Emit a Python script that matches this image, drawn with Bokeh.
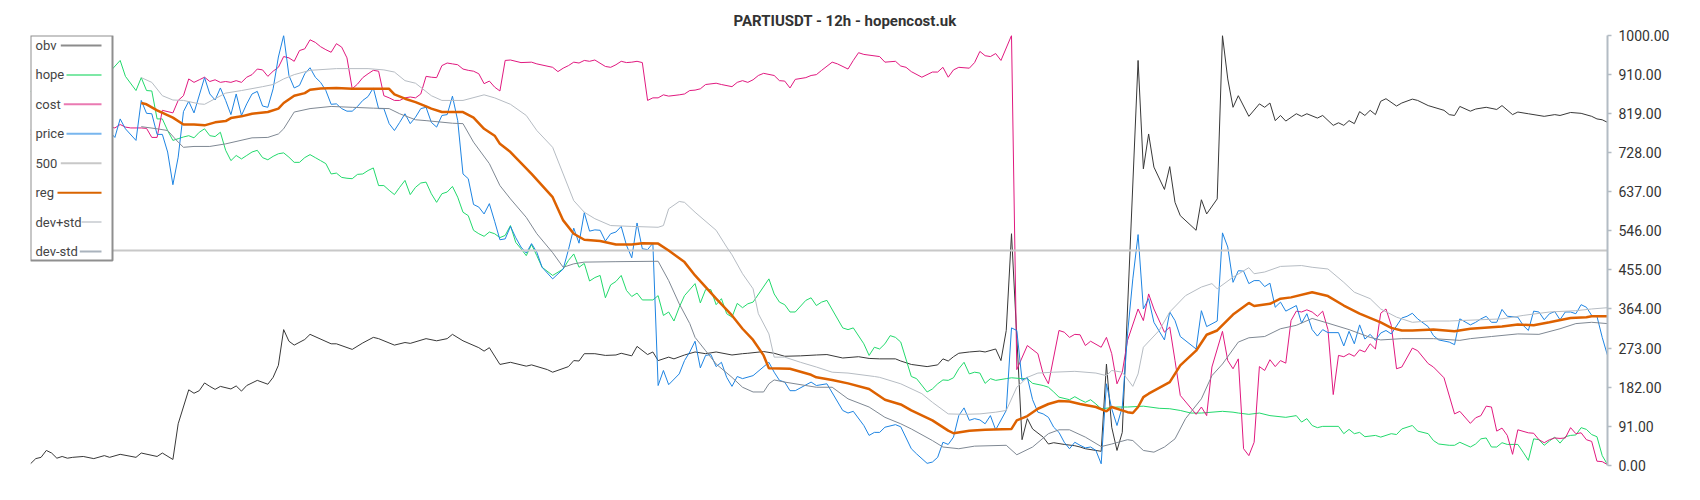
from bokeh.plotting import figure
from bokeh.models import Range1d, FixedTicker, PrintfTickFormatter, BoxAnnotation, Label
from bokeh.embed import file_html
from bokeh.resources import INLINE

# ---------------- data (candle index, normalised value 0..1000) ----------------
obv = [(0,4),(1,16),(2,19),(3,35),(4,29),(5,17),(6,21),(7,17),(8,19),(10,21),(12,16),(14,23),(15,19),(17,26),
       (20,19),(21,29),(24,21),(25,29),(27,14),(28,97),(30,176),(31,168),(32,174),(33,192),(34,184),(35,177),
       (36,184),(38,178),(39,185),(40,173),(41,186),(43,198),(45,189),(46,205),(47,233),(48,316),(49,289),(50,280),
       (52,293),(53,305),(57,283),(58,283),(61,270),(63,285),(65,298),(66,295),(69,280),(71,286),(72,284),(75,295),
       (77,290),(79,295),(80,305),(82,290),(85,274),(86,266),(87,274),(89,235),(91,240),(94,231),(95,234),(98,223),
       (99,217),(102,230),(103,244),(104,243),(105,260),(107,260),(109,256),(111,257),(112,261),(114,255),(115,277),
       (117,258),(118,264),(119,244),(121,252),(122,248),(124,257),(126,264),(128,260),(130,264),(133,257),(135,260),
       (136,261),(139,265),(141,261),(143,254),(146,255),(149,257),(151,258),(154,250),(157,253),(159,249),(161,248),
       (164,248),(165,243),(167,235),(170,230),(172,234),(173,248),(174,243),(175,253),(176,261),(178,264),(180,266),
       (181,264),(183,271),(184,244),(185,314),(186,539),(188,60),(189,109),(190,85),(192,66),(193,50),(194,53),
       (196,49),(198,46),(199,43),(200,39),(203,33),(204,236),(205,89),(206,35),(207,77),(210,942),(211,690),
       (212,771),(213,694),(215,642),(216,695),(217,612),(218,581),(221,547),(222,618),(223,585),(225,620),(226,1000),
       (227,899),(228,833),(229,860),(231,812),(233,841),(234,833),(235,843),(236,802),(237,814),(238,801),(240,818),
       (241,812),(242,818),(244,808),(245,814),(247,791),(248,797),(249,791),(250,802),(251,795),(252,823),(253,814),
       (254,826),(255,816),(256,847),(257,853),(259,836),(260,843),(262,852),(263,849),(265,837),(268,826),(269,816),
       (270,814),(271,835),(273,824),(274,829),(276,833),(278,828),(279,837),(281,816),(282,822),(284,818),(287,812),
       (289,816),(290,814),(292,821),(294,819),(296,812),(297,806),(298,804),(299,798)]

hope = [(0,870),(3,890),(6,905),(9,895),(12,925),(15,915),(17,942),(18,905),(20,872),(21,902),(22,872),(23,871),
        (24,806),(25,806),(26,779),(27,756),(28,760),(29,764),(30,767),(31,762),(32,775),(33,783),(34,767),(35,765),
        (36,775),(37,733),(38,709),(39,721),(40,713),(41,721),(42,729),(43,733),(44,716),(45,711),(46,719),(47,725),
        (48,727),(49,717),(50,705),(51,705),(52,716),(53,723),(54,716),(55,709),(56,702),(57,678),(58,680),(59,670),
        (60,668),(61,667),(62,677),(63,678),(64,686),(65,692),(66,651),(67,651),(68,640),(69,630),(70,647),(71,663),
        (72,630),(73,647),(74,657),(75,659),(76,632),(77,612),(78,632),(79,636),(80,649),(81,624),(82,589),(83,581),
        (84,547),(85,539),(86,533),(87,543),(88,539),(89,530),(90,535),(91,558),(92,519),(93,504),(94,488),(95,514),
        (96,488),(97,461),(99,442),(101,457),(102,477),(103,492),(104,461),(105,470),(106,429),(107,437),(108,442),
        (109,390),(110,420),(111,428),(112,442),(113,407),(114,393),(115,401),(116,385),(118,385),(119,395),(120,349),
        (121,357),(122,336),(123,368),(124,395),(126,423),(127,378),(128,409),(129,409),(130,374),(131,388),(132,353),
        (133,345),(134,377),(135,367),(136,376),(137,380),(140,434),(141,399),(142,380),(143,374),(144,357),(145,357),
        (147,384),(148,390),(149,372),(150,380),(151,384),(154,320),(155,316),(156,320),(158,283),(159,256),(160,275),
        (161,271),(162,283),(163,302),(164,298),(165,287),(167,207),(168,202),(170,171),(171,178),(172,190),(173,199),
        (174,198),(175,204),(176,225),(177,240),(178,213),(179,217),(180,215),(181,191),(182,202),(183,198),(185,202),
        (186,204),(188,202),(189,202),(190,191),(192,186),(193,182),(194,171),(195,159),(197,153),(198,160),(199,153),
        (200,147),(201,153),(202,143),(203,132),(206,136),(208,136),(211,138),(214,133),(216,132),(218,128),(220,122),
        (222,122),(226,126),(228,124),(229,122),(231,119),(233,122),(235,116),(238,112),(240,116),(241,101),(242,109),
        (243,93),(244,88),(245,91),(248,91),(249,74),(250,84),(251,74),(252,77),(253,67),(255,70),(256,66),(258,74),
        (259,72),(260,85),(262,93),(263,80),(265,74),(266,58),(267,50),(269,47),(270,47),(271,54),(273,43),(274,50),
        (275,62),(276,64),(277,43),(278,43),(279,53),(280,49),(282,49),(283,31),(284,12),(285,62),(286,60),(287,47),
        (288,57),(289,66),(290,52),(291,67),(292,70),(293,71),(294,88),(295,84),(296,72),(297,67),(298,23),(299,2)]

cost = [(0,770),(4,790),(8,780),(12,795),(16,785),(17,793),(18,787),(19,785),(21,785),(22,784),(23,763),(24,763),
        (25,826),(27,820),(28,849),(29,860),(30,899),(31,891),(32,897),(33,903),(34,893),(35,897),(36,891),(37,893),
        (38,891),(39,895),(40,891),(41,903),(42,909),(43,922),(44,920),(45,905),(46,917),(47,926),(48,951),(49,948),
        (50,940),(51,965),(52,969),(53,990),(54,984),(55,974),(56,967),(57,961),(58,981),(59,973),(60,948),(61,876),
        (62,887),(63,902),(64,911),(65,919),(66,917),(67,860),(68,855),(69,849),(70,849),(71,855),(72,857),(73,855),
        (74,864),(75,905),(76,903),(77,902),(78,930),(79,936),(80,934),(81,932),(82,922),(83,919),(84,917),(85,911),
        (86,888),(87,894),(88,880),(89,871),(90,942),(91,943),(93,937),(95,938),(96,934),(99,926),(100,916),(101,924),
        (102,930),(103,938),(104,936),(105,942),(106,940),(107,943),(109,928),(110,926),(111,932),(112,940),(113,937),
        (114,938),(115,940),(116,937),(117,849),(118,855),(119,855),(120,862),(121,859),(123,862),(124,864),(125,872),
        (126,873),(127,876),(128,886),(130,889),(131,886),(133,881),(134,891),(135,895),(136,891),(137,897),(138,907),
        (139,912),(141,907),(142,895),(143,894),(144,878),(145,898),(147,902),(148,907),(149,909),(150,919),(152,938),
        (153,934),(155,922),(156,942),(157,960),(158,956),(161,951),(162,938),(164,940),(165,929),(166,926),(167,916),
        (169,903),(171,915),(172,915),(173,926),(174,903),(175,920),(176,926),(178,924),(179,937),(180,963),(181,953),
        (182,951),(183,958),(184,942),(186,1000),(187,223),(189,279),(191,260),(192,213),(193,190),(195,314),(196,310),
        (197,298),(198,305),(199,304),(200,279),(201,289),(203,275),(204,298),(205,260),(206,190),(207,217),(208,291),
        (210,364),(211,337),(212,399),(213,364),(215,310),(216,322),(217,244),(218,163),(221,119),(222,136),(223,116),
        (224,229),(226,312),(227,244),(228,225),(229,248),(230,39),(231,23),(232,54),(233,230),(234,221),(235,246),
        (236,230),(237,244),(238,238),(239,337),(240,359),(241,357),(242,362),(243,357),(244,347),(245,359),(246,316),
        (247,165),(248,256),(249,253),(250,260),(251,254),(252,269),(253,264),(254,283),(255,271),(256,354),(257,364),
        (258,326),(259,225),(260,229),(262,273),(263,267),(265,237),(266,229),(268,204),(270,120),(271,126),(273,98),
        (274,111),(275,116),(276,138),(277,136),(278,80),(279,87),(280,70),(281,26),(282,83),(284,76),(285,75),(286,60),
        (287,53),(288,60),(289,64),(290,63),(291,64),(292,88),(293,74),(294,76),(295,60),(296,56),(297,10),(298,9),
        (299,2)]

price = [(0,780),(3,792),(6,770),(9,800),(12,775),(14,790),(16,763),(17,806),(18,783),(20,756),(21,849),(22,819),
         (23,818),(24,770),(25,770),(26,729),(27,653),(28,717),(29,823),(30,847),(31,820),(33,902),(34,864),(35,850),
         (36,878),(37,849),(38,816),(39,864),(40,814),(41,841),(42,864),(43,870),(44,836),(45,833),(46,876),(47,950),
         (48,1000),(49,907),(50,878),(51,884),(52,911),(53,925),(54,903),(55,891),(56,872),(57,840),(58,841),(59,830),
         (60,824),(61,824),(62,835),(63,849),(64,858),(65,878),(66,830),(67,830),(68,795),(69,779),(70,798),(71,818),
         (72,795),(73,810),(74,830),(75,833),(76,798),(77,787),(78,814),(79,816),(80,859),(81,802),(82,678),(83,667),
         (84,607),(85,601),(86,585),(87,609),(88,568),(89,525),(90,527),(91,556),(92,530),(93,508),(94,494),(95,516),
         (96,496),(97,461),(99,434),(101,457),(102,502),(103,552),(104,517),(105,588),(106,545),(107,548),(108,547),
         (109,522),(110,539),(111,543),(112,556),(113,512),(114,483),(115,564),(116,504),(117,502),(118,517),(119,186),
         (120,221),(121,188),(123,213),(124,244),(125,264),(126,289),(127,227),(128,256),(129,258),(130,230),(131,240),
         (132,205),(133,184),(134,207),(135,202),(137,209),(140,240),(141,217),(142,198),(143,194),(144,174),(145,174),
         (148,194),(149,186),(151,190),(154,128),(155,122),(156,126),(158,93),(159,70),(160,77),(161,77),(162,89),
         (164,95),(165,90),(167,39),(168,27),(170,5),(171,8),(172,19),(173,54),(174,49),(175,66),(176,116),(177,134),
         (178,105),(179,109),(180,106),(181,97),(182,116),(183,83),(185,128),(186,320),(187,314),(188,198),(189,205),
         (190,153),(191,124),(192,120),(193,112),(194,89),(195,77),(196,54),(197,39),(198,54),(199,47),(200,41),
         (201,43),(202,35),(203,4),(204,190),(205,132),(206,93),(207,136),(208,306),(209,434),(210,537),(211,364),
         (212,388),(213,333),(215,292),(216,357),(217,337),(218,300),(221,271),(222,360),(223,323),(225,336),(226,541),
         (227,508),(228,426),(229,453),(230,452),(231,423),(232,430),(233,430),(234,416),(235,424),(236,368),(237,380),
         (238,359),(240,372),(241,331),(242,353),(243,316),(244,301),(245,316),(246,309),(248,309),(249,278),(250,312),
         (251,283),(252,327),(253,294),(254,305),(255,291),(256,308),(257,314),(258,306),(260,343),(261,347),(262,354),
         (263,341),(265,323),(266,302),(267,292),(269,287),(270,281),(271,341),(273,327),(274,333),(275,341),(276,347),
         (277,333),(278,333),(279,363),(280,347),(282,345),(283,326),(284,314),(285,359),(286,357),(287,339),(288,353),
         (289,358),(290,339),(291,357),(292,357),(293,353),(294,374),(295,368),(296,349),(297,347),(298,298),(299,256)]

level_500 = [(0,500),(299,500)]

reg = [(21,843),(22,840),(24,826),(27,809),(29,793),(31,793),(33,791),(35,798),(37,801),(38,808),(40,812),(42,818),
       (45,822),(47,830),(48,843),(50,860),(52,866),(53,874),(55,877),(58,878),(61,876),(64,876),(68,876),(69,863),
       (71,853),(73,845),(75,835),(76,830),(78,822),(82,822),(84,809),(86,783),(88,767),(89,748),(91,729),(95,678),
       (99,624),(101,570),(103,539),(105,525),(108,522),(111,514),(114,514),(116,517),(119,516),(121,500),(124,473),
       (126,442),(130,388),(133,349),(135,318),(137,292),(139,256),(140,226),(144,225),(148,211),(149,205),(152,199),
       (155,191),(159,178),(162,153),(165,142),(167,128),(171,105),(174,81),(175,75),(178,81),(181,83),(186,85),
       (187,105),(189,115),(191,132),(193,143),(195,150),(197,149),(199,143),(202,136),(204,126),(205,136),(208,124),
       (209,122),(210,136),(211,159),(212,167),(216,194),(218,233),(221,267),(223,304),(225,314),(228,351),(231,378),
       (232,371),(235,376),(237,388),(239,391),(243,403),(246,394),(249,372),(252,353),(256,333),(258,320),(260,314),
       (262,314),(266,316),(270,312),(273,318),(279,323),(282,328),(285,326),(288,333),(292,343),(295,345),(296,347),
       (299,347)]

dev_plus = [(21,902),(23,891),(25,860),(27,850),(29,849),(32,841),(33,840),(35,853),(37,866),(40,872),(44,881),
            (46,886),(48,899),(50,909),(53,919),(58,923),(64,923),(67,920),(69,915),(71,895),(73,889),(76,860),(78,849),
            (82,849),(86,862),(88,855),(91,840),(94,814),(96,779),(99,740),(101,678),(103,616),(105,589),(107,574),
            (110,558),(114,556),(119,554),(120,558),(121,597),(123,614),(124,612),(126,589),(130,547),(132,508),
            (133,490),(135,446),(137,411),(138,353),(140,306),(141,252),(143,252),(146,240),(149,229),(152,217),
            (155,215),(160,207),(161,205),(165,190),(169,167),(171,147),(174,120),(177,119),(180,120),(183,124),
            (185,128),(187,182),(189,205),(191,215),(194,217),(198,219),(202,215),(204,209),(205,221),(207,217),
            (209,184),(210,213),(211,275),(214,314),(216,357),(219,395),(222,415),(224,423),(225,411),(228,438),
            (231,460),(232,446),(234,450),(237,463),(241,465),(243,461),(246,457),(249,426),(251,403),(254,388),
            (256,364),(259,345),(262,333),(265,336),(269,336),(279,341),(283,349),(288,357),(293,360),(296,364),(299,367)]

dev_minus = [(21,788),(24,783),(26,779),(28,752),(29,740),(31,742),(34,742),(37,748),(42,762),(45,763),(47,771),
             (48,783),(50,822),(53,830),(57,835),(61,833),(65,831),(68,830),(70,818),(73,804),(75,802),(80,796),(82,795),
             (84,752),(87,702),(89,651),(91,620),(94,577),(96,539),(99,495),(101,461),(103,469),(105,473),(111,474),
             (119,475),(121,430),(123,376),(125,330),(126,298),(128,267),(130,236),(133,205),(135,182),(137,171),
             (139,171),(140,190),(141,199),(143,194),(147,186),(149,182),(152,182),(155,155),(159,136),(162,112),
             (165,97),(167,85),(171,58),(173,43),(176,39),(179,45),(185,47),(187,25),(190,43),(193,74),(195,83),
             (197,83),(200,66),(203,44),(205,50),(208,60),(209,58),(211,35),(213,31),(215,43),(217,62),(219,109),
             (222,155),(224,209),(226,236),(229,287),(231,297),(234,300),(237,318),(240,326),(243,342),(246,331),
             (250,316),(254,298),(256,292),(260,295),(266,295),(271,291),(273,295),(277,300),(282,306),(286,305),
             (290,318),(293,330),(296,333),(299,330)]

tick_values = [0, 91, 182, 273, 364, 455, 546, 637, 728, 819, 910, 1000]
series_names = ["obv", "hope", "cost", "price", "500", "reg", "dev+std", "dev-std"]
title_text = "PARTIUSDT - 12h - hopencost.uk"

# ---------------- styles ----------------
line_colors = ["#383838", "#22d96c", "#e0197f", "#1e84e2", "#c8c8c8", "#dd6100", "#b6bcc3", "#7f8893"]
line_widths = [1, 1, 1, 1, 2, 2.5, 1, 1]
legend_colors = ["#8c8c8c", "#7ee8a6", "#ea7ab2", "#78b6ee", "#c8c8c8", "#d96400", "#d4d7db", "#aab3bd"]
legend_glyph_left = [30.3, 36, 33.3, 36, 30.3, 27, 51, 49.3]   # screen px from frame left

p = figure(frame_width=1577, frame_height=430, output_backend="svg", toolbar_location=None,
           x_range=Range1d(0, 299), y_range=Range1d(0, 1000),
           x_axis_location=None, y_axis_location="right",
           min_border_left=30, min_border_right=85, min_border_top=35, min_border_bottom=27)
p.outline_line_color = None
p.grid.visible = False

p.title.text = title_text
p.title.align = "left"
p.title.offset = 703
p.title.text_font = "Roboto"
p.title.text_font_size = "15px"
p.title.text_font_style = "bold"
p.title.text_color = "#333333"
p.title.standoff = 12

ax = p.yaxis[0]
ax.ticker = FixedTicker(ticks=tick_values)
ax.formatter = PrintfTickFormatter(format="%.2f")
ax.axis_line_color = "#b3bcc4"
ax.axis_line_width = 2
ax.major_tick_line_color = "#b3bcc4"
ax.major_tick_line_width = 1.5
ax.major_tick_in = 0
ax.major_tick_out = 4
ax.minor_tick_line_color = None
ax.major_label_text_font = "Roboto"
ax.major_label_text_font_size = "14px"
ax.major_label_text_color = "#333333"
ax.major_label_standoff = 7

all_series = [obv, hope, cost, price, level_500, reg, dev_plus, dev_minus]
for data, col, w in zip(all_series, line_colors, line_widths):
    xs = [d[0] for d in data]
    ys = [d[1] for d in data]
    p.line(xs, ys, line_color=col, line_width=w)

# ---------------- legend (label first, glyph after, like the reference) ----------------
p.add_layout(BoxAnnotation(left=0, right=82, bottom=205, top=430,
                           left_units="screen", right_units="screen",
                           bottom_units="screen", top_units="screen",
                           fill_color="white", fill_alpha=1.0,
                           line_color="#8f8f8f", line_width=2, line_alpha=1.0))
for i, name in enumerate(series_names):
    cy = 420 - i * 29.43
    p.add_layout(Label(x=5, y=cy, x_units="screen", y_units="screen", text=name,
                       text_font="Roboto", text_font_size="13px", text_color="#444444",
                       text_baseline="middle", text_align="left"))
    p.add_layout(BoxAnnotation(left=legend_glyph_left[i], right=71, bottom=cy - 1, top=cy + 1,
                               left_units="screen", right_units="screen",
                               bottom_units="screen", top_units="screen",
                               fill_color=legend_colors[i], fill_alpha=1.0, line_color=None))

open("out.html", "w").write(file_html(p, INLINE))
